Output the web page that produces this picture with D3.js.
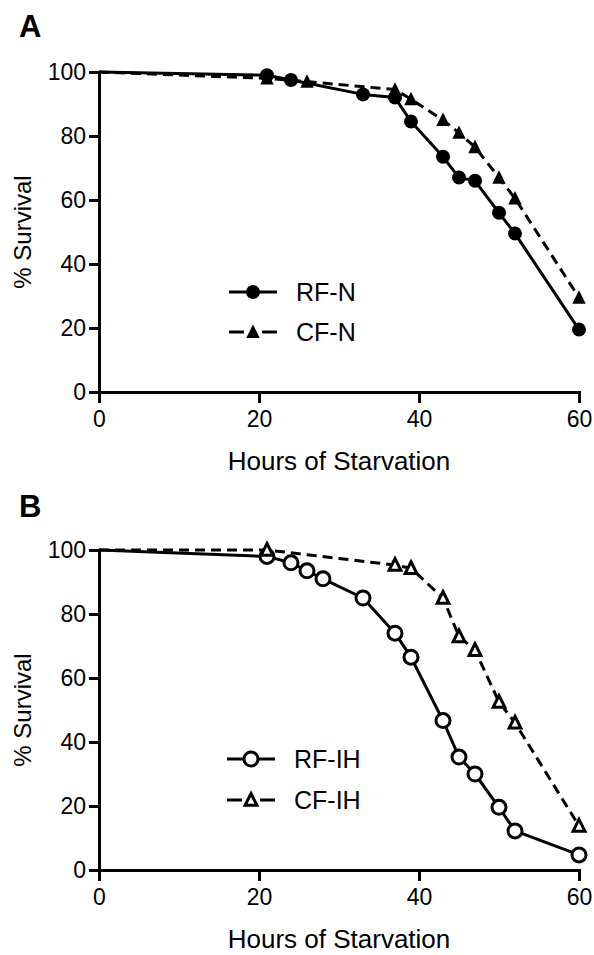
<!DOCTYPE html>
<html>
<head>
<meta charset="utf-8">
<script src="https://cdn.jsdelivr.net/npm/d3@7"></script>
<style>
  html, body { margin: 0; padding: 0; background: #fff; }
  svg { display: block; }
  text { font-family: "Liberation Sans", Arial, sans-serif; fill: #000; }
</style>
</head>
<body>
<svg id="chart" width="594" height="955"></svg>
<script>
// Survival during starvation (hours) for four groups, two panels
const xTicks = [0, 20, 40, 60];
const yTicks = [0, 20, 40, 60, 80, 100];

// Panel A
const rfnHours = [0, 21, 24, 33, 37, 39, 43, 45, 47, 50, 52, 60];
const rfnSurvival = [100, 99, 97.5, 93, 92, 84.5, 73.5, 67, 66, 56, 49.5, 19.5];
const cfnHours = [0, 21, 26, 37, 39, 43, 45, 47, 50, 52, 60];
const cfnSurvival = [100, 98, 97, 94.5, 91.5, 85, 81, 76.5, 67, 60.5, 29.5];

// Panel B
const rfihHours = [0, 21, 24, 26, 28, 33, 37, 39, 43, 45, 47, 50, 52, 60];
const rfihSurvival = [100, 98, 96, 93.5, 91, 85, 74, 66.5, 46.7, 35.3, 30, 19.6, 12.2, 4.7];
const cfihHours = [0, 21, 37, 39, 43, 45, 47, 50, 52, 60];
const cfihSurvival = [100, 100, 95.3, 94.3, 85, 73, 68.7, 52.5, 46, 13.8];

const svg = d3.select("#chart");

// Isoceles triangle roughly as tall as it is wide
const tallTriangle = {
  draw(ctx, size) {
    const s = Math.sqrt(size);
    ctx.moveTo(0, -s * 0.55);
    ctx.lineTo(s * 0.5, s * 0.45);
    ctx.lineTo(-s * 0.5, s * 0.45);
    ctx.closePath();
  }
};

function zip(xs, ys) { return xs.map((x, i) => ({ x, y: ys[i] })); }

function drawMarker(g, kind, cx, cy) {
  if (kind === "circleFilled") {
    g.append("circle").attr("cx", cx).attr("cy", cy).attr("r", 7).attr("fill", "#000");
  } else if (kind === "circleOpen") {
    g.append("circle").attr("cx", cx).attr("cy", cy).attr("r", 7)
      .attr("fill", "#fff").attr("stroke", "#000").attr("stroke-width", 3);
  } else if (kind === "triFilled") {
    g.append("path").attr("d", d3.symbol(tallTriangle, 180)())
      .attr("transform", `translate(${cx},${cy})`).attr("fill", "#000");
  } else if (kind === "triOpen") {
    g.append("path").attr("d", d3.symbol(tallTriangle, 140)())
      .attr("transform", `translate(${cx},${cy})`)
      .attr("fill", "#fff").attr("stroke", "#000").attr("stroke-width", 3)
      .attr("stroke-linejoin", "miter");
  }
}

function panel(opts) {
  const x = d3.scaleLinear().domain([0, 60]).range([99, 579]);
  const y = d3.scaleLinear().domain([0, 100]).range([opts.bottom, opts.bottom - 320]);
  const g = svg.append("g");

  // Axes
  const yAxis = d3.axisLeft(y).tickValues(yTicks).tickSize(10).tickSizeOuter(0).tickPadding(3);
  const xAxis = d3.axisBottom(x).tickValues(xTicks).tickSize(11).tickSizeOuter(0).tickPadding(8);

  const ya = g.append("g").attr("transform", `translate(${x(0)},0)`).call(yAxis);
  const xa = g.append("g").attr("transform", `translate(0,${y(0)})`).call(xAxis);
  [ya, xa].forEach(a => {
    a.select(".domain").attr("stroke", "#000").attr("stroke-width", 3).attr("stroke-linecap", "square");
    a.selectAll(".tick line").attr("stroke", "#000").attr("stroke-width", 3);
    a.selectAll(".tick text").attr("font-size", 23).attr("font-family", "Liberation Sans, Arial, sans-serif").attr("fill", "#000");
  });

  // Series
  const line = d3.line().x(d => x(d.x)).y(d => y(d.y));
  opts.series.forEach(s => {
    const pts = zip(s.hours, s.values);
    g.append("path").datum(pts).attr("d", line)
      .attr("fill", "none").attr("stroke", "#000").attr("stroke-width", 3)
      .attr("stroke-linejoin", "round")
      .attr("stroke-dasharray", s.dashed ? "10,6" : null);
  });
  opts.series.forEach(s => {
    const pts = zip(s.hours, s.values).filter(d => d.x > 0);
    const mg = g.append("g");
    pts.forEach(d => drawMarker(mg, s.marker, x(d.x), y(d.y)));
  });

  // Legend
  opts.series.forEach((s, i) => {
    const ly = opts.legendY[i];
    const lg = g.append("g");
    const x0 = opts.legendX, x1 = opts.legendX + 48, xm = (x0 + x1) / 2;
    if (s.dashed) {
      lg.append("line").attr("x1", x0).attr("x2", x0 + 15).attr("y1", ly).attr("y2", ly)
        .attr("stroke", "#000").attr("stroke-width", 3);
      lg.append("line").attr("x1", x1 - 15).attr("x2", x1).attr("y1", ly).attr("y2", ly)
        .attr("stroke", "#000").attr("stroke-width", 3);
    } else {
      lg.append("line").attr("x1", x0).attr("x2", x1).attr("y1", ly).attr("y2", ly)
        .attr("stroke", "#000").attr("stroke-width", 3);
    }
    drawMarker(lg, s.marker, xm, ly);
    lg.append("text").attr("x", opts.legendX + 67).attr("y", ly).attr("dy", "0.36em")
      .attr("font-size", 25).text(s.name);
  });

  // Titles
  g.append("text").attr("x", (x(0) + x(60)) / 2).attr("y", y(0) + 78)
    .attr("text-anchor", "middle").attr("font-size", 26).text("Hours of Starvation");
  g.append("text")
    .attr("transform", `translate(31,${(y(0) + y(100)) / 2}) rotate(-90)`)
    .attr("text-anchor", "middle").attr("font-size", 24).text("% Survival");
  g.append("text").attr("x", 19).attr("y", opts.letterY)
    .attr("font-size", 31).attr("font-weight", "bold").text(opts.letter);
}

panel({
  bottom: 392, letter: "A", letterY: 37,
  legendX: 229, legendY: [292, 332],
  series: [
    { name: "RF-N", hours: rfnHours, values: rfnSurvival, marker: "circleFilled", dashed: false },
    { name: "CF-N", hours: cfnHours, values: cfnSurvival, marker: "triFilled", dashed: true }
  ]
});

panel({
  bottom: 870, letter: "B", letterY: 517,
  legendX: 227, legendY: [759, 800],
  series: [
    { name: "RF-IH", hours: rfihHours, values: rfihSurvival, marker: "circleOpen", dashed: false },
    { name: "CF-IH", hours: cfihHours, values: cfihSurvival, marker: "triOpen", dashed: true }
  ]
});
</script>
</body>
</html>
